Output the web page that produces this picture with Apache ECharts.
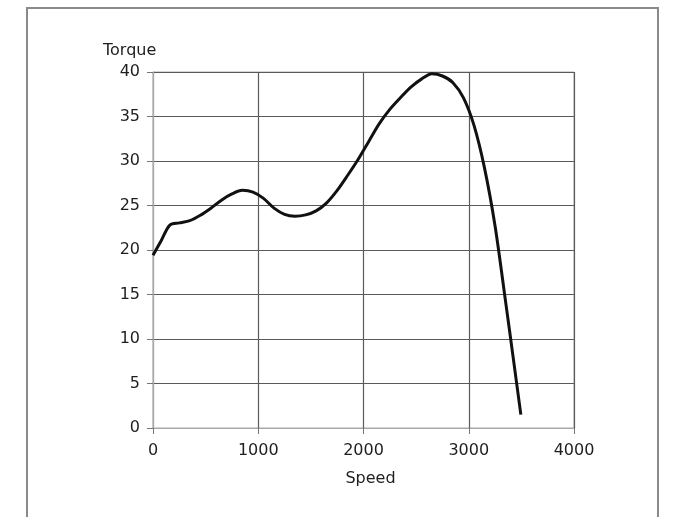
<!DOCTYPE html>
<html>
<head>
<meta charset="utf-8">
<script src="https://cdn.jsdelivr.net/npm/echarts@6/dist/echarts.min.js"></script>
<style>
html,body{margin:0;padding:0;background:#fff;}
#chart{width:674px;height:517px;}
</style>
</head>
<body>
<div id="chart"></div>
<script>
// Data
var speed  = [0, 80, 160, 250, 350, 450, 550, 650, 750, 850, 950, 1050, 1150, 1250, 1350, 1450, 1550, 1650, 1750, 1850, 1950, 2050, 2150, 2250, 2350, 2450, 2550, 2650, 2750, 2850, 2950, 3050, 3150, 3250, 3350, 3420, 3495];
var torque = [19.4, 21.1, 22.8, 23.05, 23.3, 23.9, 24.7, 25.6, 26.3, 26.7, 26.5, 25.8, 24.7, 24.0, 23.8, 23.95, 24.4, 25.3, 26.7, 28.4, 30.2, 32.2, 34.2, 35.8, 37.1, 38.3, 39.2, 39.8, 39.55, 38.8, 37.1, 34.0, 29.2, 22.7, 14.2, 8.1, 1.5];
var xTicks = [0, 1000, 2000, 3000, 4000];
var yTicks = [0, 5, 10, 15, 20, 25, 30, 35, 40];
var xName = 'Speed';
var yName = 'Torque';

var points = speed.map(function (s, i) { return [s, torque[i]]; });
var font = 'DejaVu Sans, Verdana, sans-serif';
var textColor = '#1e1e1e';

var chart = echarts.init(document.getElementById('chart'), null, {renderer: 'canvas'});
chart.setOption({
  animation: false,
  backgroundColor: '#fff',
  title: {
    text: yName,
    left: 98, top: 38,
    textStyle: {fontFamily: font, fontSize: 16, fontWeight: 'normal', color: textColor}
  },
  graphic: [{
    type: 'rect',
    shape: {x: 27, y: 8, width: 631, height: 600},
    style: {fill: 'none', stroke: '#8a8a8a', lineWidth: 2},
    silent: true
  }],
  grid: {
    left: 153, right: 100, top: 72, bottom: 89,
    show: true, borderColor: '#a8a8a8', borderWidth: 1, backgroundColor: 'transparent'
  },
  xAxis: {
    type: 'value',
    min: xTicks[0], max: xTicks[xTicks.length - 1], interval: 1000,
    name: xName, nameLocation: 'middle', nameGap: 43,
    nameTextStyle: {fontFamily: font, fontSize: 16, color: textColor, padding: [0, 0, 0, 14]},
    axisLine: {show: true, lineStyle: {color: '#a8a8a8', width: 1}},
    axisTick: {show: true, length: 6, lineStyle: {color: '#777'}},
    axisLabel: {fontFamily: font, fontSize: 16, color: textColor, margin: 15,
      formatter: function (v) { return String(v); }},
    splitLine: {show: true, lineStyle: {color: '#5a5a5a', width: 1.2}}
  },
  yAxis: {
    type: 'value',
    min: yTicks[0], max: yTicks[yTicks.length - 1], interval: 5,
    axisLine: {show: true, lineStyle: {color: '#a8a8a8', width: 1}},
    axisTick: {show: true, length: 6, lineStyle: {color: '#777'}},
    axisLabel: {fontFamily: font, fontSize: 16, color: textColor, margin: 13,
      formatter: function (v) { return String(v); }},
    splitLine: {show: true, lineStyle: {color: '#5a5a5a', width: 1.2}}
  },
  series: [{
    type: 'line',
    data: points,
    smooth: 0.3,
    showSymbol: false,
    lineStyle: {color: '#111', width: 3},
    clip: true
  }]
});
</script>
</body>
</html>
